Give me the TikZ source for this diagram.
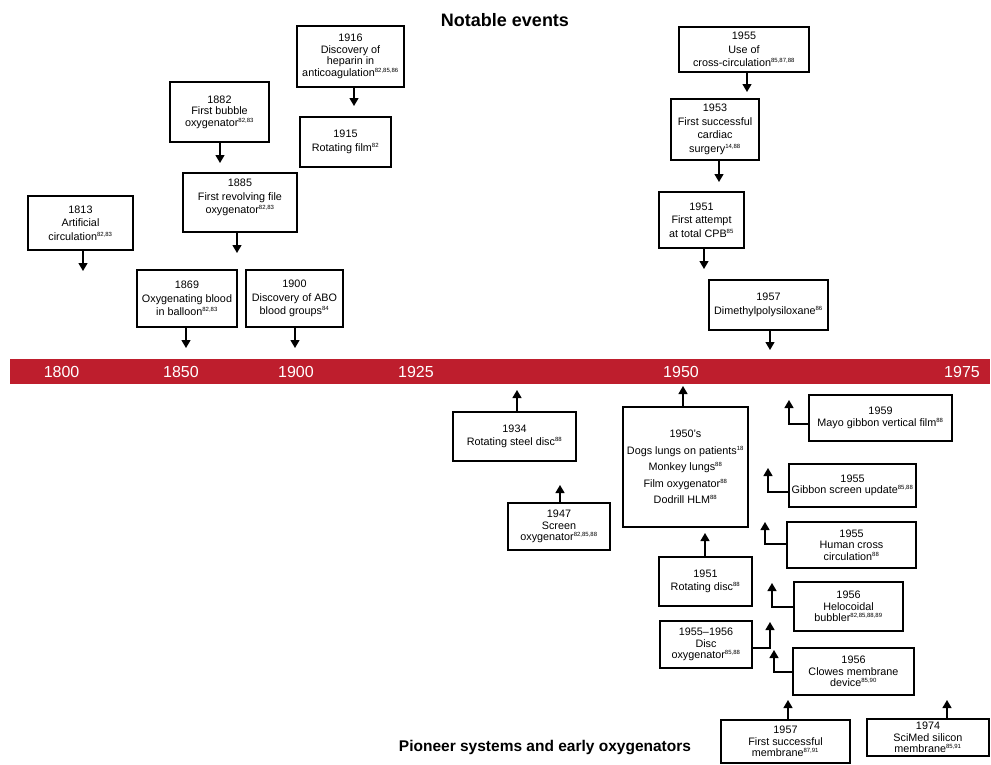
\documentclass[tikz,border=0pt]{standalone}
\usepackage{fontspec}
\setmainfont{Liberation Sans}
\usetikzlibrary{arrows.meta}
\definecolor{bandred}{RGB}{190,30,45}
\newcommand\rf[1]{\textsuperscript{\fontsize{6}{6}\selectfont #1}}
\newcommand\bx[7][]{\node[box,#1,minimum width={#5pt-#3pt},minimum height={#6pt-#4pt}] (#2) at ({(#3+#5)/2},{(#4+#6)/2}) {#7};}
\begin{document}
\begin{tikzpicture}[x=1pt,y=-1pt,
  box/.style={draw,line width=1.3pt,rectangle,inner sep=0pt,align=center,font=\fontsize{10.8}{13.5}\selectfont},
  tight/.style={font=\fontsize{10.8}{11.5}\selectfont},
  wide/.style={font=\fontsize{10.8}{16.5}\selectfont},
  arr/.style={line width=1.3pt,-{Triangle[width=9pt,length=8pt]}},
  yearlab/.style={text=white,font=\fontsize{16}{16}\selectfont,inner sep=0pt},
  title/.style={font=\bfseries\fontsize{18}{18}\selectfont,inner sep=0pt}]
\useasboundingbox (0,0) rectangle (991,764);
% band
\fill[bandred] (10,359) rectangle (990,384);
\node[yearlab] (y1800) at (61.6,371.5) {1800};
\node[yearlab] (y1850) at (181,371.5) {1850};
\node[yearlab] (y1900) at (296,371.5) {1900};
\node[yearlab] (y1925) at (416,371.5) {1925};
\node[yearlab] (y1950) at (681,371.5) {1950};
\node[yearlab] (y1975) at (962,371.5) {1975};
% titles
\node[title] (tnot) at (505,20) {Notable events};
\node[title,font=\bfseries\fontsize{15.5}{15.5}\selectfont] (tpio) at (545,748) {Pioneer systems and early oxygenators};
% free ends
\coordinate (t1813) at (83,271);
\coordinate (t1869) at (186,348);
\coordinate (t1900) at (295,348);
\coordinate (t1885) at (237,253);
\coordinate (t1882) at (220,163);
\coordinate (t1916) at (354,106);
\coordinate (t1955a) at (747,92);
\coordinate (t1953) at (719,182);
\coordinate (t1951a) at (704,269);
\coordinate (t1957a) at (770,350);
\coordinate (t1934) at (517,390);
\coordinate (t1947) at (560,485);
\coordinate (t1950s) at (683,386);
\coordinate (t1951b) at (705,533);
\coordinate (t1959) at (789,400);
\coordinate (t1955b) at (768,468);
\coordinate (t1955c) at (765,522);
\coordinate (t1956a) at (772,583);
\coordinate (t1955d) at (770,622);
\coordinate (t1956b) at (774,650);
\coordinate (t1957b) at (788,700);
\coordinate (t1974) at (947,700);
% notable events
\bx{n1813}{28}{196}{133}{250}{1813\\Artificial\\circulation\rf{82,83}}
\bx{n1869}{137}{270}{237}{327}{1869\\Oxygenating blood\\in balloon\rf{82,83}}
\bx{n1900}{246}{270}{343}{327}{1900\\Discovery of ABO\\blood groups\rf{84}}
\bx{n1885}{183}{173}{297}{232}{1885\\First revolving file\\oxygenator\rf{82,83}\\[-1.5pt]}
\bx[tight]{n1882}{170}{82}{269}{142}{1882\\First bubble\\oxygenator\rf{82,83}}
\bx[tight]{n1916}{297}{26}{404}{87}{1916\\Discovery of\\heparin in\\anticoagulation\rf{82,85,86}}
\bx{n1915}{300}{117}{391}{167}{1915\\Rotating film\rf{82}}
\bx{n1955a}{679}{27}{809}{72}{1955\\Use of\\cross-circulation\rf{85,87,88}}
\bx{n1953}{671}{99}{759}{160}{1953\\First successful\\cardiac\\surgery\rf{14,88}}
\bx{n1951a}{659}{192}{744}{248}{1951\\First attempt\\at total CPB\rf{85}}
\bx{n1957a}{709}{280}{828}{330}{1957\\Dimethylpolysiloxane\rf{86}}
% pioneer systems
\bx{n1934}{453}{412}{576}{461}{1934\\Rotating steel disc\rf{88}}
\bx[tight]{n1947}{508}{503}{610}{550}{1947\\Screen\\oxygenator\rf{82,85,88}}
\bx[wide]{n1950s}{623}{407}{748}{527}{1950's\\Dogs lungs on patients\rf{18}\\Monkey lungs\rf{88}\\Film oxygenator\rf{88}\\Dodrill HLM\rf{88}}
\bx{n1951b}{659}{557}{752}{606}{1951\\Rotating disc\rf{88}}
\bx[font=\fontsize{10.8}{12}\selectfont]{n1959}{809}{395}{952}{441}{1959\\Mayo gibbon vertical film\rf{88}}
\bx[tight]{n1955b}{789}{464}{916}{507}{1955\\Gibbon screen update\rf{85,88}}
\bx[tight]{n1955c}{787}{522}{916}{568}{1955\\Human cross\\circulation\rf{88}}
\bx[tight]{n1956a}{794}{582}{903}{631}{1956\\Helocoidal\\bubbler\rf{82,85,88,89}}
\bx[tight]{n1955d}{660}{621}{752}{668}{1955--1956\\Disc\\oxygenator\rf{85,88}}
\bx[tight]{n1956b}{793}{648}{914}{695}{1956\\Clowes membrane\\device\rf{85,90}}
\bx[tight]{n1957b}{721}{720}{850}{763}{1957\\First successful\\membrane\rf{87,91}}
\bx[tight]{n1974}{867}{719}{989}{756}{1974\\SciMed silicon\\membrane\rf{85,91}}
% connectors down
\foreach \n in {1813,1869,1900,1885,1882,1916,1955a,1953,1951a,1957a}
  \draw[arr] (n\n.south -| t\n) -- (t\n);
% connectors up
\foreach \n in {1934,1947,1950s,1951b,1957b,1974}
  \draw[arr] (n\n.north -| t\n) -- (t\n);
% elbow connectors
\draw[arr] ([yshift=-6pt]n1959.west) -| (t1959);
\draw[arr] ([yshift=-6.5pt]n1955b.west) -| (t1955b);
\draw[arr] ([yshift=1pt]n1955c.west) -| (t1955c);
\draw[arr] ([yshift=-0.5pt]n1956a.west) -| (t1956a);
\draw[arr] ([yshift=-3.5pt]n1955d.east) -| (t1955d);
\draw[arr] ([yshift=-0.5pt]n1956b.west) -| (t1956b);
\end{tikzpicture}
\end{document}
